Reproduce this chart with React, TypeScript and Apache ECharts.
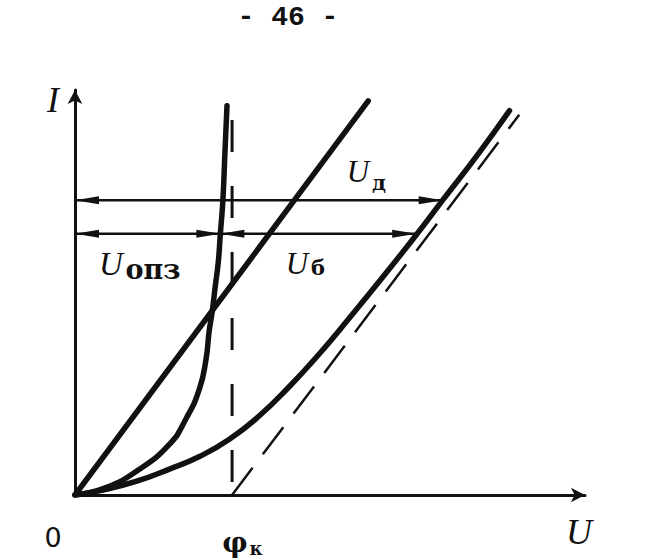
import React, { useEffect, useRef } from "react";
import * as echarts from "echarts";

const INK = "#111111";

// axis ranges (arbitrary units)
const U_MAX = 10;
const I_MAX = 10;

// space-charge-region (barrier) I–U curve
const opzU = [0, 0.58, 1.21, 1.85, 2.18, 2.44, 2.57, 2.63, 2.69, 2.75, 2.81, 2.85, 2.9, 2.94, 2.98];
const opzI = [0, 0.17, 0.59, 1.25, 1.89, 2.62, 3.36, 4.04, 4.53, 5.15, 5.76, 6.45, 7.28, 8.46, 9.61];

// ohmic (base) straight line
const baseU = [0, 5.75];
const baseI = [0, 9.73];

// total diode I–U curve
const diodeU = [0, 0.55, 1.21, 1.85, 2.44, 3.02, 3.61, 4.19, 4.78, 5.36, 6.04, 6.69, 7.21, 7.9, 8.52];
const diodeI = [0, 0.12, 0.34, 0.64, 0.95, 1.37, 1.95, 2.66, 3.47, 4.34, 5.39, 6.42, 7.28, 8.41, 9.49];

// contact potential
const PHI_K = 3.08;
const phiLineI = [9.26, 0];
// asymptote of the total curve
const asymU = [PHI_K, 8.71];
const asymI = [0, 9.39];

// dimension arrows: [U start, U end, I level]
const arrows = [
  [0, 7.21, 7.28], // U_д
  [0, 2.85, 6.45], // U_опз
  [2.85, 6.69, 6.45], // U_б
];

const zip = (xs: number[], ys: number[]) => xs.map((x, i) => [x, ys[i]]);

export default function App() {
  const ref = useRef<HTMLDivElement>(null);

  useEffect(() => {
    if (!ref.current) return;
    const chart = echarts.init(ref.current, undefined, { renderer: "svg" });

    const axisCommon = {
      type: "value" as const,
      min: 0,
      axisTick: { show: false },
      axisLabel: { show: false },
      splitLine: { show: false },
      axisLine: {
        show: true,
        symbol: ["none", "arrow"],
        symbolSize: [11, 14],
        lineStyle: { color: INK, width: 3 },
      },
    };

    const curveStyle = { color: INK, width: 5.5, cap: "round" as const, join: "round" as const };

    const serif = '"Liberation Serif", "DejaVu Serif", serif';
    const bold = '"DejaVu Serif", "Liberation Serif", serif';

    const txt = (text: string, x: number, y: number, font: string) => ({
      type: "text",
      x,
      y,
      silent: true,
      style: { text, font, fill: INK, textAlign: "center", textVerticalAlign: "middle" },
    });

    chart.setOption({
      animation: false,
      backgroundColor: "#ffffff",
      grid: { left: 75, right: 70, top: 90, bottom: 65, containLabel: false },
      xAxis: { ...axisCommon, max: U_MAX },
      yAxis: { ...axisCommon, max: I_MAX },
      series: [
        {
          type: "line",
          data: zip(opzU, opzI),
          showSymbol: false,
          smooth: 0.5,
          lineStyle: curveStyle,
        },
        {
          type: "line",
          data: zip(baseU, baseI),
          showSymbol: false,
          lineStyle: curveStyle,
        },
        {
          type: "line",
          data: zip(diodeU, diodeI),
          showSymbol: false,
          smooth: 0.5,
          lineStyle: curveStyle,
        },
        {
          type: "line",
          data: phiLineI.map((i) => [PHI_K, i]),
          showSymbol: false,
          lineStyle: { color: INK, width: 3, type: [32, 34] },
        },
        {
          type: "line",
          data: zip(asymU, asymI),
          showSymbol: false,
          lineStyle: { color: INK, width: 2.5, type: [34, 17] },
        },
        {
          type: "custom",
          data: arrows,
          encode: { x: [0, 1], y: 2 },
          renderItem: (_params: any, api: any) => {
            const a = api.coord([api.value(0), api.value(2)]);
            const b = api.coord([api.value(1), api.value(2)]);
            const L = 24;
            const W = 4;
            return {
              type: "group",
              children: [
                {
                  type: "line",
                  shape: { x1: a[0], y1: a[1], x2: b[0], y2: b[1] },
                  style: { stroke: INK, lineWidth: 2.5 },
                },
                {
                  type: "polygon",
                  shape: { points: [[a[0], a[1]], [a[0] + L, a[1] - W], [a[0] + L, a[1] + W]] },
                  style: { fill: INK },
                },
                {
                  type: "polygon",
                  shape: { points: [[b[0], b[1]], [b[0] - L, b[1] - W], [b[0] - L, b[1] + W]] },
                  style: { fill: INK },
                },
              ],
            };
          },
        },
      ],
      graphic: [
        txt("- 46 -", 288, 17, 'bold 28px "Liberation Mono", monospace'),
        txt("I", 53, 100, `italic 36px ${serif}`),
        txt("U", 579, 532, `italic 36px ${serif}`),
        txt("0", 53, 537, '27px "DejaVu Sans", sans-serif'),
        txt("φ", 235, 542, `bold 28px ${bold}`),
        txt("к", 256, 548, `bold 18px ${bold}`),
        txt("U", 358, 171, `italic 31px ${serif}`),
        txt("д", 379, 182, `bold 21px ${bold}`),
        txt("U", 111, 264, `italic 33px ${serif}`),
        txt("опз", 153, 269, `bold 27px ${bold}`),
        txt("U", 297, 263, `italic 31px ${serif}`),
        txt("б", 318, 267, `bold 21px ${bold}`),
      ],
    });

    return () => chart.dispose();
  }, []);

  return (
    <div
      ref={ref}
      style={{ position: "absolute", left: 0, top: 0, width: 655, height: 560, background: "#fff" }}
    />
  );
}
